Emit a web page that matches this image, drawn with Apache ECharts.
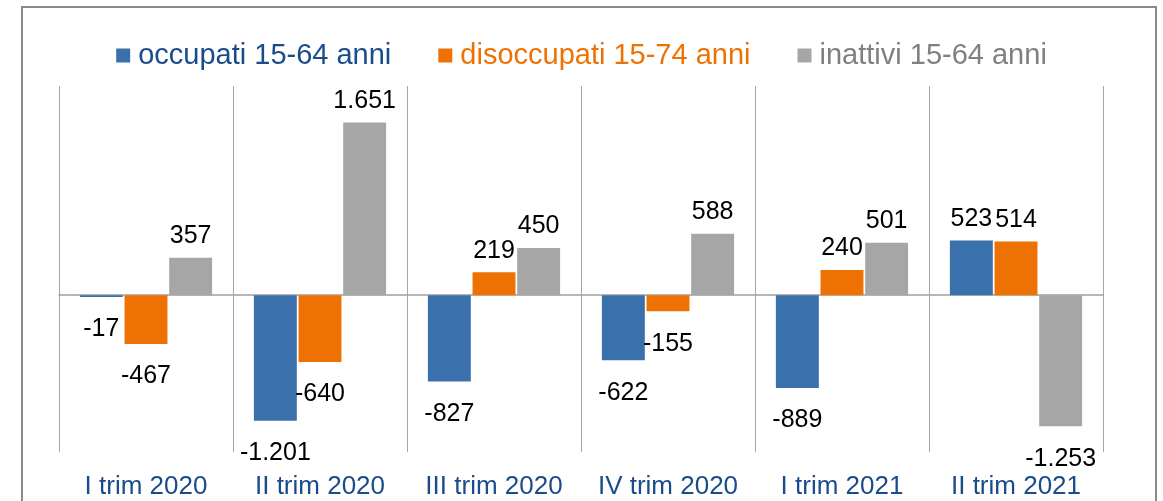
<!DOCTYPE html>
<html>
<head>
<meta charset="utf-8">
<script src="https://cdn.jsdelivr.net/npm/echarts@6/dist/echarts.min.js"></script>
<style>
html,body{margin:0;padding:0;background:#fff;}
#chart{width:1163px;height:501px;}
</style>
</head>
<body>
<div id="chart"></div>
<script>
const categories = ['I trim 2020','II trim 2020','III trim 2020','IV trim 2020','I trim 2021','II trim 2021'];
const seriesNames = ['occupati 15-64 anni','disoccupati 15-74 anni','inattivi 15-64 anni'];
const occupati = [-17, -1201, -827, -622, -889, 523];
const disoccupati = [-467, -640, 219, -155, 240, 514];
const inattivi = [357, 1651, 450, 588, 501, -1253];

const barColors = ['#3A70AC', '#EE7203', '#A6A6A6'];
const legendColors = ['#1A4C8C', '#EE7203', '#808080'];
const FONT = 'Liberation Sans, Arial, sans-serif';

function fmt(v){
  const s = String(Math.abs(v)).replace(/\B(?=(\d{3})+(?!\d))/g, '.');
  return (v < 0 ? '-' : '') + s;
}

function makeSeries(name, values, color){
  return {
    name: name,
    type: 'bar',
    xAxisIndex: 0,
    barGap: '4%',
    barCategoryGap: '24%',
    itemStyle: {color: color},
    label: {
      show: true,
      fontFamily: FONT,
      fontSize: 25,
      color: '#000',
      formatter: p => fmt(p.value)
    },
    data: values.map(v => ({
      value: v,
      label: {position: v >= 0 ? 'top' : 'bottom', distance: v >= 0 ? 9 : 20}
    }))
  };
}

const chart = echarts.init(document.getElementById('chart'));
chart.setOption({
  animation: false,
  backgroundColor: '#fff',
  textStyle: {fontFamily: FONT},
  graphic: [{
    type: 'rect',
    shape: {x: 22, y: 7, width: 1134, height: 520},
    style: {fill: 'none', stroke: '#8a8a8a', lineWidth: 2},
    silent: true
  }],
  legend: {
    left: 'center',
    top: 36,
    itemWidth: 14,
    itemHeight: 14,
    itemGap: 47,
    icon: 'rect',
    textStyle: {fontFamily: FONT, fontSize: 29, padding: [0,0,0,3]},
    data: seriesNames.map((n, i) => ({name: n, textStyle: {color: legendColors[i]}}))
  },
  grid: {left: 59, right: 60, top: 86, bottom: 49},
  xAxis: [{
    type: 'category',
    data: categories,
    position: 'bottom',
    axisLine: {show: false, onZero: false},
    axisTick: {show: false},
    axisLabel: {fontFamily: FONT, fontSize: 26, color: '#1A4C8C', margin: 22, interval: 0},
    splitLine: {show: true, interval: 0, lineStyle: {color: '#a6a6a6', width: 1}}
  }, {
    type: 'category',
    data: categories,
    position: 'bottom',
    axisLine: {show: true, onZero: true, lineStyle: {color: '#a0a0a0', width: 1.5}},
    axisTick: {show: false},
    axisLabel: {show: false},
    splitLine: {show: false}
  }],
  yAxis: {
    type: 'value',
    min: -1500,
    max: 2000,
    interval: 500,
    axisLine: {show: false},
    axisTick: {show: false},
    axisLabel: {show: false},
    splitLine: {show: false}
  },
  series: [
    makeSeries(seriesNames[0], occupati, barColors[0]),
    makeSeries(seriesNames[1], disoccupati, barColors[1]),
    makeSeries(seriesNames[2], inattivi, barColors[2])
  ]
});
</script>
</body>
</html>
